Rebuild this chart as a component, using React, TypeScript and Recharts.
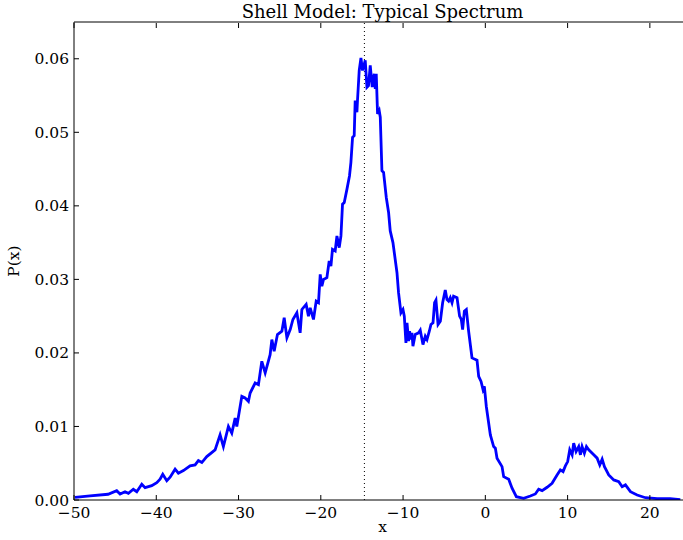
import { LineChart, Line, XAxis, YAxis, ReferenceLine } from "recharts"

// spectrum samples
const xValues = [
  -49.88, -48.05, -45.86, -44.81, -44.4, -43.8, -43.39, -42.79, -42.37, -41.76, -41.36, -40.55,
  -39.94, -39.54, -39.21, -38.72, -38.32, -37.71, -37.31, -36.7, -35.89, -35.28, -34.88, -34.46,
  -33.86, -32.85, -32.24, -31.84, -31.23, -30.82, -30.41, -30.21, -29.6, -29.2, -28.8, -28.59,
  -27.98, -27.58, -27.17, -26.76, -26.16, -25.95, -25.67, -25.27, -24.73, -24.45, -24.12, -23.72,
  -23.39, -22.91, -22.51, -22.3, -21.78, -21.5, -21.29, -20.89, -20.56, -20.28, -20.07, -19.87,
  -19.67, -19.26, -18.98, -18.77, -18.58, -18.25, -18.04, -17.76, -17.55, -17.36, -17.15, -16.82,
  -16.51, -16.34, -16.14, -15.94, -15.82, -15.61, -15.54, -15.33, -15.12, -14.93, -14.6, -14.39,
  -14.2, -13.99, -13.75, -13.5, -13.38, -13.26, -13.1, -12.9, -12.77, -12.57, -12.37, -12.04,
  -11.76, -11.56, -11.23, -10.74, -10.55, -10.26, -10.01, -9.85, -9.65, -9.52, -9.33, -9.21,
  -9.04, -8.92, -8.8, -8.52, -8.11, -7.91, -7.58, -7.3, -7.09, -6.81, -6.61, -6.36,
  -6.17, -6.0, -5.75, -5.47, -5.19, -4.87, -4.66, -4.46, -4.26, -4.05, -3.86, -3.44,
  -3.13, -2.92, -2.76, -2.55, -2.31, -2.03, -1.62, -1.01, -0.81, -0.52, -0.28, -0.12,
  0.12, 0.61, 1.01, 1.22, 1.42, 2.03, 2.23, 2.84, 3.25, 3.77, 4.66, 5.47,
  6.08, 6.48, 6.9, 7.51, 8.11, 8.72, 9.12, 9.45, 9.73, 10.01, 10.26, 10.55,
  10.74, 11.03, 11.35, 11.56, 11.76, 12.04, 12.29, 12.57, 13.18, 13.59, 13.91, 14.2,
  14.48, 15.0, 15.61, 16.22, 16.63, 17.03, 17.64, 18.45, 19.46, 20.89, 22.46, 23.7,
]

const pValues = [
  0.00037, 0.00055, 0.00078, 0.00127, 0.00082, 0.00113, 0.00091, 0.00146, 0.00113, 0.00214, 0.00168, 0.00195,
  0.00236, 0.00282, 0.0035, 0.00263, 0.0031, 0.00419, 0.00364, 0.004, 0.00464, 0.00477, 0.00536, 0.00509,
  0.0059, 0.00682, 0.00886, 0.00727, 0.01, 0.0091, 0.01114, 0.01, 0.01409, 0.01387, 0.0134, 0.01455,
  0.01591, 0.01568, 0.01886, 0.01728, 0.01977, 0.02182, 0.02022, 0.0225, 0.02295, 0.02478, 0.02205, 0.02318,
  0.02455, 0.02546, 0.02273, 0.02591, 0.02659, 0.025, 0.02614, 0.02455, 0.02704, 0.02682, 0.03068, 0.02909,
  0.03, 0.03023, 0.0325, 0.03182, 0.03409, 0.03386, 0.03591, 0.03432, 0.03591, 0.04023, 0.04046, 0.04227,
  0.04409, 0.04592, 0.04932, 0.04954, 0.05432, 0.05273, 0.05432, 0.05841, 0.0601, 0.05841, 0.05977, 0.05614,
  0.05636, 0.05909, 0.05614, 0.05796, 0.05591, 0.05796, 0.0525, 0.05295, 0.05205, 0.04477, 0.04455, 0.04114,
  0.0391, 0.03659, 0.035, 0.03091, 0.02819, 0.02546, 0.02591, 0.025, 0.02137, 0.0241, 0.02159, 0.02295,
  0.02182, 0.02273, 0.02091, 0.0225, 0.02273, 0.02309, 0.02114, 0.02227, 0.02182, 0.02295, 0.02386, 0.0241,
  0.02682, 0.02718, 0.02386, 0.02432, 0.02682, 0.02854, 0.02727, 0.02704, 0.0275, 0.02682, 0.02772, 0.0275,
  0.025, 0.02455, 0.02318, 0.02568, 0.02591, 0.02295, 0.01932, 0.019, 0.01681, 0.01613, 0.015, 0.01545,
  0.01272, 0.00886, 0.00727, 0.00705, 0.00569, 0.00454, 0.00318, 0.00282, 0.0016, 0.00045, 0.00023, 0.00055,
  0.00082, 0.00146, 0.00127, 0.00173, 0.00228, 0.00341, 0.00409, 0.00386, 0.00464, 0.00522, 0.00682, 0.00614,
  0.00773, 0.00659, 0.00727, 0.00614, 0.00727, 0.00637, 0.00727, 0.00682, 0.00614, 0.00569, 0.00477, 0.00555,
  0.00454, 0.00341, 0.00273, 0.0025, 0.00181, 0.00205, 0.00113, 0.00068, 0.00031, 0.00018, 0.00018, 0.00004,
]

const xTicks = [-50, -40, -30, -20, -10, 0, 10, 20]
const yTicks = [0, 0.01, 0.02, 0.03, 0.04, 0.05, 0.06]
const markerX = -14.7

const data = xValues.map((x, i) => ({ x, p: pValues[i] }))

// plot box (matplotlib frame), used for the inward tick marks
const PLOT_TOP = 23
const PLOT_BOTTOM = 500
const PLOT_LEFT = 74
const TICK_LEN = 5
const X_LABEL_GAP = 7
const Y_LABEL_GAP = 5

const font = "'DejaVu Serif', serif"
const fmtX = (v: number) => (v < 0 ? `\u2212${Math.abs(v)}` : `${v}`)

const XTick = (props: any) => {
  const { x, payload } = props
  return (
    <g>
      <line x1={x} x2={x} y1={PLOT_BOTTOM} y2={PLOT_BOTTOM - TICK_LEN} stroke="#000" />
      <line x1={x} x2={x} y1={PLOT_TOP} y2={PLOT_TOP + TICK_LEN} stroke="#000" />
      <text x={x} y={PLOT_BOTTOM + X_LABEL_GAP} dy="0.71em" textAnchor="middle" fontSize={15.5} fontFamily={font} fill="#000">
        {fmtX(payload.value)}
      </text>
    </g>
  )
}

const YTick = (props: any) => {
  const { y, payload } = props
  return (
    <g>
      <line x1={PLOT_LEFT} x2={PLOT_LEFT + TICK_LEN} y1={y} y2={y} stroke="#000" />
      <text x={PLOT_LEFT - Y_LABEL_GAP} y={y} dy="0.355em" textAnchor="end" fontSize={15.5} fontFamily={font} fill="#000">
        {payload.value.toFixed(2)}
      </text>
    </g>
  )
}

export default function App() {
  return (
    <div style={{ position: "absolute", left: 0, top: 0, width: 683, height: 540, overflow: "hidden", background: "#fff" }}>
      <LineChart width={691} height={540} data={data} margin={{ top: 22, right: 0, bottom: 0, left: 0 }}>
        <XAxis xAxisId="tp" orientation="top" dataKey="x" type="number" domain={[-50, 25]} ticks={xTicks}
          interval={0} allowDataOverflow height={1} mirror tickLine={false} tick={false} stroke="#000" />
        <XAxis
          dataKey="x"
          type="number"
          domain={[-50, 25]}
          ticks={xTicks}
          interval={0}
          allowDataOverflow
          height={40}
          stroke="#000"
          tickLine={false}
          tick={<XTick />}
          label={{
            content: (props: any) => {
              const vb = props.viewBox
              const cx = vb.x + vb.width / 2
              return (
                <g>
                  <text x={cx} y={532} textAnchor="middle" fontSize={15.5} fontFamily={font} fill="#000">
                    x
                  </text>
                  <text x={cx} y={18} textAnchor="middle" fontSize={18} fontFamily={font} fill="#000">
                    Shell Model: Typical Spectrum
                  </text>
                </g>
              )
            },
          }}
        />
        <YAxis
          type="number"
          domain={[0, 0.065]}
          ticks={yTicks}
          interval={0}
          allowDataOverflow
          width={74}
          stroke="#000"
          tickLine={false}
          tick={<YTick />}
          label={{
            content: (props: any) => {
              const vb = props.viewBox
              const cy = vb.y + vb.height / 2
              return (
                <text x={19} y={cy} transform={`rotate(-90 19 ${cy})`} textAnchor="middle" fontSize={15.5} fontFamily={font} fill="#000">
                  P(x)
                </text>
              )
            },
          }}
        />
        <ReferenceLine x={markerX} stroke="#000" strokeWidth={1} strokeDasharray="1 3" />
        <Line type="linear" dataKey="p" stroke="#0000ff" strokeWidth={2.8} dot={false} isAnimationActive={false} />
      </LineChart>
    </div>
  )
}
